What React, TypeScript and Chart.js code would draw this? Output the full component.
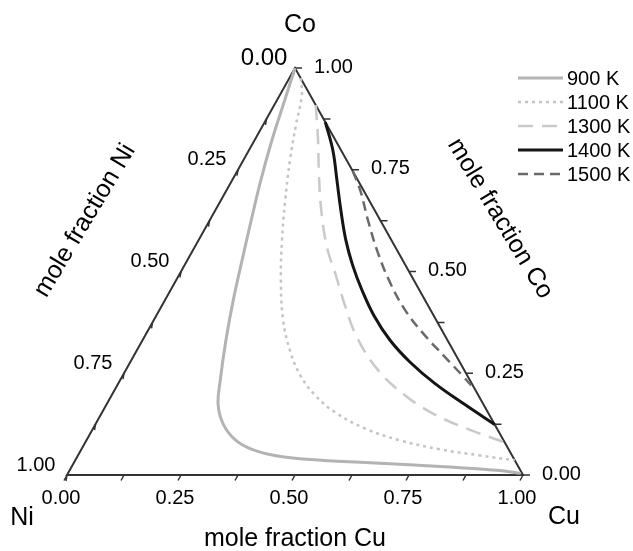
import { useEffect, useRef } from "react";
import { Chart, registerables } from "chart.js";

Chart.register(...registerables);

// Phase boundary compositions in the Co–Cu–Ni system (mole fractions; Ni = 1 - Cu - Co)
const cu900 = [0.0, 0.017, 0.038, 0.063, 0.091, 0.12, 0.15, 0.183, 0.22, 0.246, 0.283, 0.328, 0.374, 0.432, 0.514, 0.649, 0.808, 0.944, 0.993];
const co900 = [1.0, 0.921, 0.823, 0.724, 0.626, 0.528, 0.429, 0.331, 0.232, 0.171, 0.122, 0.085, 0.063, 0.048, 0.038, 0.03, 0.021, 0.011, 0.004];

const cu1100 = [0.025, 0.048, 0.072, 0.102, 0.141, 0.183, 0.23, 0.284, 0.336, 0.389, 0.446, 0.511, 0.597, 0.688, 0.787, 0.882, 0.964];
const co1100 = [0.975, 0.934, 0.86, 0.774, 0.675, 0.577, 0.478, 0.38, 0.306, 0.245, 0.196, 0.154, 0.114, 0.085, 0.063, 0.048, 0.036];

const cu1300 = [0.091, 0.139, 0.184, 0.232, 0.29, 0.344, 0.401, 0.467, 0.554, 0.643, 0.727, 0.82, 0.92];
const co1300 = [0.909, 0.823, 0.737, 0.651, 0.56, 0.491, 0.417, 0.338, 0.257, 0.196, 0.151, 0.114, 0.08];

const cu1400 = [0.133, 0.184, 0.23, 0.275, 0.323, 0.369, 0.42, 0.477, 0.543, 0.614, 0.694, 0.786, 0.876];
const co1400 = [0.867, 0.798, 0.724, 0.651, 0.577, 0.515, 0.454, 0.392, 0.331, 0.277, 0.225, 0.173, 0.124];

const cu1500 = [0.253, 0.293, 0.347, 0.408, 0.471, 0.539, 0.607, 0.685, 0.744, 0.792];
const co1500 = [0.747, 0.7, 0.626, 0.547, 0.474, 0.405, 0.348, 0.289, 0.245, 0.208];

const seriesLabels = ["900 K", "1100 K", "1300 K", "1400 K", "1500 K"];

// Axis ticks
const majorTicks = [0, 0.25, 0.5, 0.75, 1];
const tickLabels = ["0.00", "0.25", "0.50", "0.75", "1.00"];
const minorTicks = [0, 0.125, 0.25, 0.375, 0.5, 0.625, 0.75, 0.875, 1];

const FONT = '"Liberation Sans", Arial, Helvetica, sans-serif';

type Style = { color: string; width: number; dash: number[] };
const styles: Style[] = [
  { color: "#b3b3b3", width: 3, dash: [] },
  { color: "#c4c4c4", width: 2.5, dash: [3, 4] },
  { color: "#c9c9c9", width: 2.5, dash: [15, 9] },
  { color: "#151515", width: 3, dash: [] },
  { color: "#6a6a6a", width: 2.5, dash: [10, 6] },
];

// ternary (Cu, Co) -> cartesian, Ni at origin, Cu at (1,0), Co at apex
const toXY = (cu: number[], co: number[]) =>
  cu.map((c, i) => ({ x: c + co[i] / 2, y: co[i] }));

const ternaryFrame = {
  id: "ternaryFrame",
  beforeDatasetsDraw(chart: any) {
    const { ctx, scales } = chart;
    const P = (cu: number, co: number) => ({
      x: scales.x.getPixelForValue(cu + co / 2),
      y: scales.y.getPixelForValue(co),
    });
    const ni = P(0, 0);
    const cuV = P(1, 0);
    const coV = P(0, 1);
    ctx.save();
    ctx.strokeStyle = "#333";
    ctx.lineWidth = 2;
    ctx.beginPath();
    ctx.moveTo(ni.x, ni.y);
    ctx.lineTo(cuV.x, cuV.y);
    ctx.lineTo(coV.x, coV.y);
    ctx.closePath();
    ctx.stroke();

    ctx.lineWidth = 1.5;
    ctx.beginPath();
    for (const v of minorTicks) {
      // Cu axis (bottom)
      const b = P(v, 0);
      ctx.moveTo(b.x, b.y);
      ctx.lineTo(b.x - 3, b.y + 5.5);
      // Ni axis (left)
      const l = P(0, 1 - v);
      ctx.moveTo(l.x, l.y);
      ctx.lineTo(l.x - 1, l.y + 6);
      // Co axis (right)
      const r = P(1 - v, v);
      ctx.moveTo(r.x, r.y);
      ctx.lineTo(r.x + 7, r.y);
    }
    ctx.stroke();
    ctx.restore();
  },
  afterDatasetsDraw(chart: any) {
    const { ctx, scales, width } = chart;
    const P = (cu: number, co: number) => ({
      x: scales.x.getPixelForValue(cu + co / 2),
      y: scales.y.getPixelForValue(co),
    });
    ctx.save();
    ctx.fillStyle = "#000";
    ctx.textBaseline = "middle";

    majorTicks.forEach((v, i) => {
      // Cu axis labels
      const b = P(v, 0);
      ctx.font = `20px ${FONT}`;
      ctx.textAlign = "center";
      ctx.fillText(tickLabels[i], b.x - 6, b.y + 23);
      // Ni axis labels
      const l = P(0, 1 - v);
      ctx.font = v === 0 ? `24px ${FONT}` : `20px ${FONT}`;
      ctx.fillText(tickLabels[i], l.x - 31, l.y - 10);
      // Co axis labels
      const r = P(1 - v, v);
      ctx.font = `20px ${FONT}`;
      ctx.textAlign = "left";
      ctx.fillText(tickLabels[i], r.x + 19, r.y - 1);
    });

    // corner and axis titles
    const ni = P(0, 0);
    const cuV = P(1, 0);
    const coV = P(0, 1);
    ctx.font = `25px ${FONT}`;
    ctx.textAlign = "center";
    ctx.fillText("Co", coV.x + 5, coV.y - 43);
    ctx.fillText("Ni", ni.x - 45, ni.y + 43);
    ctx.fillText("Cu", cuV.x + 41, cuV.y + 42);
    ctx.fillText("mole fraction Cu", (ni.x + cuV.x) / 2, ni.y + 64);

    const leftMid = { x: (ni.x + coV.x) / 2, y: (ni.y + coV.y) / 2 };
    ctx.save();
    ctx.translate(leftMid.x - 96, leftMid.y - 51);
    ctx.rotate((-59 * Math.PI) / 180);
    ctx.fillText("mole fraction Ni", 0, 0);
    ctx.restore();

    const rightMid = { x: (cuV.x + coV.x) / 2, y: (cuV.y + coV.y) / 2 };
    ctx.save();
    ctx.translate(rightMid.x + 91, rightMid.y - 53);
    ctx.rotate((59 * Math.PI) / 180);
    ctx.fillText("mole fraction Co", 0, 0);
    ctx.restore();

    // legend
    const lx = width - 115;
    seriesLabels.forEach((label, i) => {
      const y = 78 + 24 * i;
      const s = styles[i];
      ctx.save();
      ctx.strokeStyle = s.color;
      ctx.lineWidth = s.width;
      ctx.setLineDash(s.dash);
      ctx.beginPath();
      ctx.moveTo(lx, y);
      ctx.lineTo(lx + 45, y);
      ctx.stroke();
      ctx.restore();
      ctx.font = `20px ${FONT}`;
      ctx.textAlign = "left";
      ctx.fillStyle = "#000";
      ctx.fillText(label, lx + 49, y + 1);
    });
    ctx.restore();
  },
};

export default function App() {
  const canvasRef = useRef<HTMLCanvasElement | null>(null);

  useEffect(() => {
    const canvas = canvasRef.current;
    if (!canvas) return;
    const curves = [
      toXY(cu900, co900),
      toXY(cu1100, co1100),
      toXY(cu1300, co1300),
      toXY(cu1400, co1400),
      toXY(cu1500, co1500),
    ];
    const chart = new Chart(canvas, {
      type: "scatter",
      data: {
        datasets: curves.map((data, i) => ({
          label: seriesLabels[i],
          data,
          showLine: true,
          borderColor: styles[i].color,
          borderWidth: styles[i].width,
          borderDash: styles[i].dash,
          pointRadius: 0,
          tension: 0.4,
          fill: false,
        })),
      },
      options: {
        responsive: false,
        animation: false,
        layout: { padding: { left: 67, right: 110, top: 68, bottom: 76 } },
        scales: {
          x: { type: "linear", min: 0, max: 1, display: false },
          y: { type: "linear", min: 0, max: 1, display: false },
        },
        plugins: {
          legend: { display: false },
          tooltip: { enabled: false },
        },
      },
      plugins: [ternaryFrame],
    });
    return () => chart.destroy();
  }, []);

  return (
    <div style={{ position: "fixed", left: 0, top: 0, width: 633, height: 551, background: "#fff" }}>
      <canvas ref={canvasRef} width={633} height={551} />
    </div>
  );
}
